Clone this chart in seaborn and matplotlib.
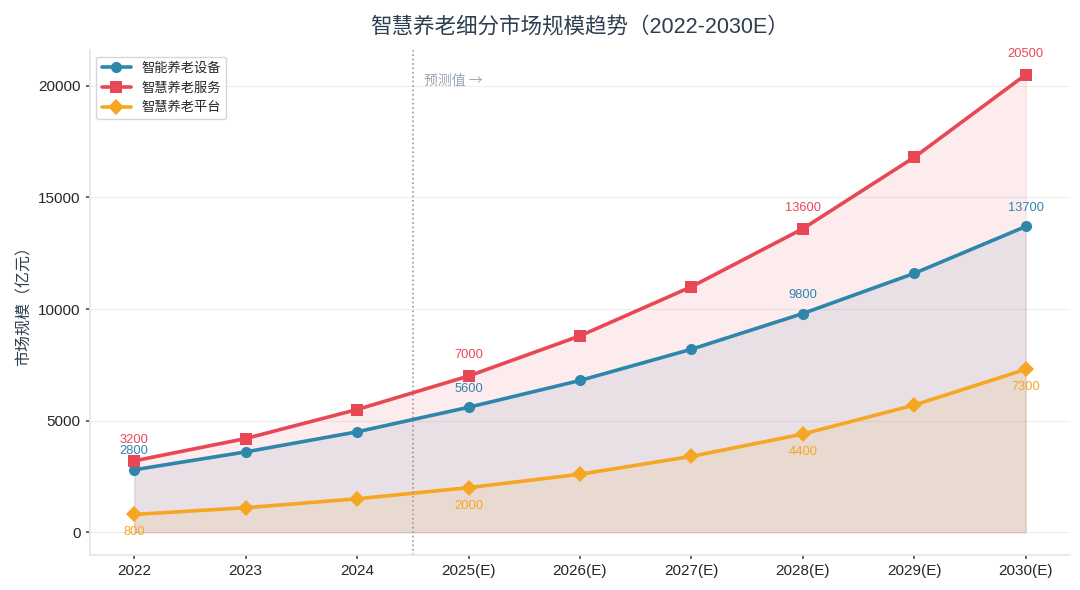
import pandas as pd
import matplotlib
matplotlib.use('Agg')
import matplotlib.pyplot as plt
import seaborn as sns

years = ['2022', '2023', '2024', '2025(E)', '2026(E)', '2027(E)', '2028(E)', '2029(E)', '2030(E)']
device = [2800, 3600, 4500, 5600, 6800, 8200, 9800, 11600, 13700]
service = [3200, 4200, 5500, 7000, 8800, 11000, 13600, 16800, 20500]
platform = [800, 1100, 1500, 2000, 2600, 3400, 4400, 5700, 7300]

names = ['智能养老设备', '智慧养老服务', '智慧养老平台']
colors = ['#2E86AB', '#E84855', '#F5A623']
markers = ['o', 's', 'D']
label_idx = [0, 3, 6, 8]

sns.set_theme(style='white')
plt.rcParams['font.family'] = ['Liberation Sans', 'Noto Sans CJK SC', 'DejaVu Sans']
plt.rcParams['axes.unicode_minus'] = False

df = pd.DataFrame({'year': years, names[0]: device, names[1]: service, names[2]: platform})
long = df.melt(id_vars='year', var_name='series', value_name='value')
long['x'] = long.groupby('series').cumcount()

fig, ax = plt.subplots(figsize=(10.8, 5.9), dpi=100)

sns.lineplot(data=long, x='x', y='value', hue='series', style='series',
             palette=dict(zip(names, colors)), markers=dict(zip(names, markers)),
             dashes=False, linewidth=2.6, markersize=8, markeredgewidth=0, ax=ax)

# label offsets (points): device, service above; platform below
offsets = [13.5, 15, -13]
xs = list(range(len(years)))
for name, vals, c, off in zip(names, [device, service, platform], colors, offsets):
    ax.fill_between(xs, 0, vals, color=c, alpha=0.1, linewidth=1)
    for i in label_idx:
        ax.annotate(f'{vals[i]}', (i, vals[i]), xytext=(0, off),
                    textcoords='offset points', ha='center', va='center',
                    fontsize=9.3, color=c)

ax.axvline(2.5, color='#999999', linestyle=':', linewidth=1.2)
ax.text(2.6, 20200, '预测值 →', color='#9AA5B1', fontsize=10, va='center',
        family=['Noto Sans CJK SC', 'DejaVu Sans'])

ax.set_xticks(xs)
ax.set_xticklabels(years, fontsize=11)
ax.set_xlim(-0.4, 8.4)
ax.set_ylim(-1000, 21600)
ax.set_yticks([0, 5000, 10000, 15000, 20000])
ax.tick_params(axis='y', labelsize=11, length=3, color='#555555', left=True)
ax.tick_params(axis='x', length=3, color='#555555', bottom=True)
ax.yaxis.grid(True, color='#eeeeee', linewidth=0.8)
ax.set_axisbelow(True)
ax.set_xlabel('')
ax.set_ylabel('市场规模（亿元）', fontsize=11.5, color='#2C3E50',
              family=['Noto Sans CJK SC', 'DejaVu Sans'])
ax.set_title('智慧养老细分市场规模趋势（2022-2030E）', fontsize=15.5, color='#2C3E50', pad=13)

for s in ['top', 'right']:
    ax.spines[s].set_visible(False)
for s in ['left', 'bottom']:
    ax.spines[s].set_color('#e6e6e6')

leg = ax.legend(loc='upper left', fontsize=9.5, frameon=True, edgecolor='#cccccc', title=None,
                handlelength=2.2)
for t in leg.get_texts():
    t.set_family(['Noto Sans CJK SC', 'DejaVu Sans'])

plt.subplots_adjust(left=0.083, right=0.991, bottom=0.06, top=0.915)
plt.savefig('out.png', dpi=100)
